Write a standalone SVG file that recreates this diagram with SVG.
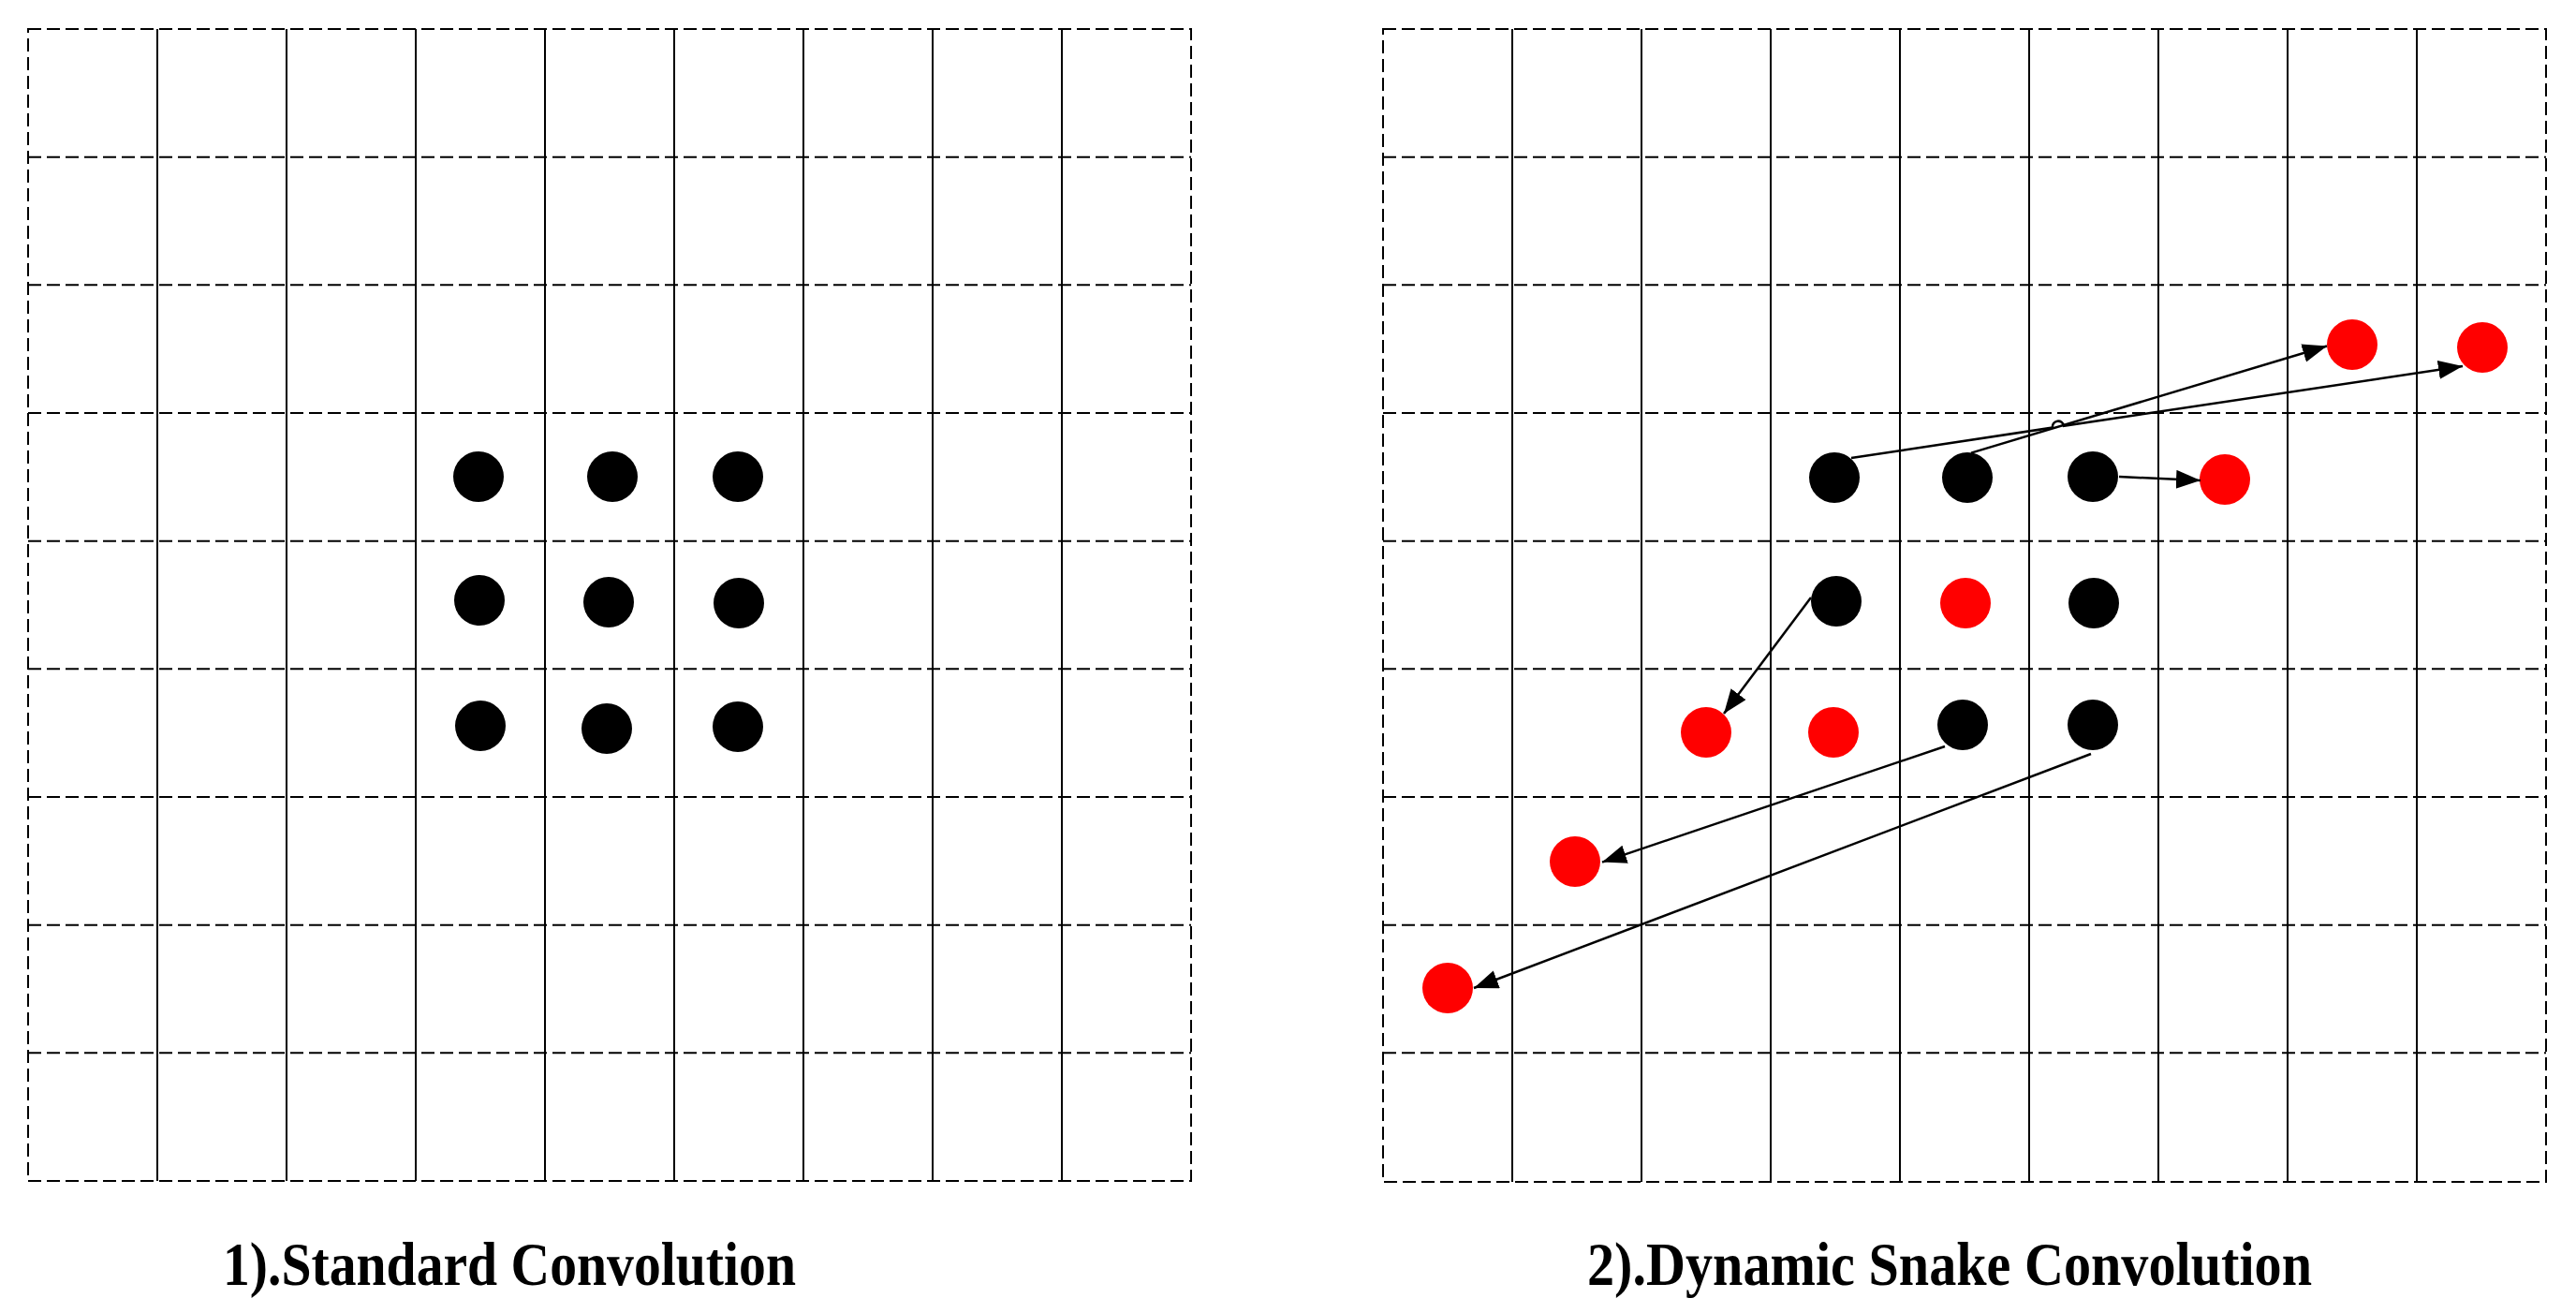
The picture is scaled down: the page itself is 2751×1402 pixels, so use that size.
<svg xmlns="http://www.w3.org/2000/svg" width="2751" height="1402" viewBox="0 0 2751 1402">
<style>
.bd{fill:none;stroke:#000;stroke-width:2;stroke-dasharray:14 6}
.hl{stroke:#000;stroke-width:2;stroke-dasharray:14 6}
.vl{stroke:#000;stroke-width:2}
.blk{fill:#000}
.red{fill:#ff0000}
.con{fill:none;stroke:#000;stroke-width:2.5}
.lbl{font-family:"Liberation Serif","Times New Roman",serif;font-weight:bold;font-size:65px;fill:#000}
</style>
<defs>
<marker id="ah" markerUnits="userSpaceOnUse" markerWidth="28" markerHeight="22" refX="26" refY="10" orient="auto">
<path d="M0,0 L26,10 L0,20 z" fill="#000"/>
</marker>
</defs>
<rect width="2751" height="1402" fill="#fff"/>
<g id="grid-left">
<rect class="bd" x="30" y="31" width="1242" height="1230"/>
<g class="hl">
<line x1="30" y1="167.7" x2="1272" y2="167.7"/>
<line x1="30" y1="304.3" x2="1272" y2="304.3"/>
<line x1="30" y1="441" x2="1272" y2="441"/>
<line x1="30" y1="577.7" x2="1272" y2="577.7"/>
<line x1="30" y1="714.3" x2="1272" y2="714.3"/>
<line x1="30" y1="851" x2="1272" y2="851"/>
<line x1="30" y1="987.7" x2="1272" y2="987.7"/>
<line x1="30" y1="1124.3" x2="1272" y2="1124.3"/>
</g>
<g class="vl">
<line x1="168" y1="31" x2="168" y2="1261"/>
<line x1="306" y1="31" x2="306" y2="1261"/>
<line x1="444" y1="31" x2="444" y2="1261"/>
<line x1="582" y1="31" x2="582" y2="1261"/>
<line x1="720" y1="31" x2="720" y2="1261"/>
<line x1="858" y1="31" x2="858" y2="1261"/>
<line x1="996" y1="31" x2="996" y2="1261"/>
<line x1="1134" y1="31" x2="1134" y2="1261"/>
</g>
</g>
<g id="grid-right">
<rect class="bd" x="1477" y="31" width="1242" height="1231"/>
<g class="hl">
<line x1="1477" y1="167.7" x2="2719" y2="167.7"/>
<line x1="1477" y1="304.3" x2="2719" y2="304.3"/>
<line x1="1477" y1="441" x2="2719" y2="441"/>
<line x1="1477" y1="577.7" x2="2719" y2="577.7"/>
<line x1="1477" y1="714.3" x2="2719" y2="714.3"/>
<line x1="1477" y1="851" x2="2719" y2="851"/>
<line x1="1477" y1="987.7" x2="2719" y2="987.7"/>
<line x1="1477" y1="1124.3" x2="2719" y2="1124.3"/>
</g>
<g class="vl">
<line x1="1615" y1="31" x2="1615" y2="1262"/>
<line x1="1753" y1="31" x2="1753" y2="1262"/>
<line x1="1891" y1="31" x2="1891" y2="1262"/>
<line x1="2029" y1="31" x2="2029" y2="1262"/>
<line x1="2167" y1="31" x2="2167" y2="1262"/>
<line x1="2305" y1="31" x2="2305" y2="1262"/>
<line x1="2443" y1="31" x2="2443" y2="1262"/>
<line x1="2581" y1="31" x2="2581" y2="1262"/>
</g>
</g>
<g id="std-dots">
<g id="s11"><circle class="blk" cx="511" cy="509" r="27"/></g>
<g id="s12"><circle class="blk" cx="654" cy="509" r="27"/></g>
<g id="s13"><circle class="blk" cx="788" cy="509" r="27"/></g>
<g id="s21"><circle class="blk" cx="512" cy="641" r="27"/></g>
<g id="s22"><circle class="blk" cx="650" cy="643" r="27"/></g>
<g id="s23"><circle class="blk" cx="789" cy="644" r="27"/></g>
<g id="s31"><circle class="blk" cx="513" cy="775" r="27"/></g>
<g id="s32"><circle class="blk" cx="648" cy="778" r="27"/></g>
<g id="s33"><circle class="blk" cx="788" cy="776" r="27"/></g>
</g>
<g id="dsc-dots">
<g id="b11"><circle class="blk" cx="1959" cy="510" r="27"/></g>
<g id="b12"><circle class="blk" cx="2101" cy="510" r="27"/></g>
<g id="b13"><circle class="blk" cx="2235" cy="509" r="27"/></g>
<g id="b21"><circle class="blk" cx="1961" cy="642" r="27"/></g>
<g id="b23"><circle class="blk" cx="2236" cy="644" r="27"/></g>
<g id="b32"><circle class="blk" cx="2096" cy="774" r="27"/></g>
<g id="b33"><circle class="blk" cx="2235" cy="774" r="27"/></g>
<g id="r1"><circle class="red" cx="2376" cy="512" r="27"/></g>
<g id="r2"><circle class="red" cx="2512" cy="368" r="27"/></g>
<g id="r3"><circle class="red" cx="2651" cy="371" r="27"/></g>
<g id="r4"><circle class="red" cx="2099" cy="644" r="27"/></g>
<g id="r5"><circle class="red" cx="1822" cy="782" r="27"/></g>
<g id="r6"><circle class="red" cx="1958" cy="782" r="27"/></g>
<g id="r7"><circle class="red" cx="1682" cy="920" r="27"/></g>
<g id="r8"><circle class="red" cx="1546" cy="1055" r="27"/></g>
</g>
<g id="connectors">
<path class="con" marker-end="url(#ah)" d="M1977,489 L2192,456.6 A6,6 0 0 1 2204,454.8 L2630,391"/>
<line class="con" marker-end="url(#ah)" x1="2105" y1="483.6" x2="2485" y2="369.5"/>
<line class="con" marker-end="url(#ah)" x1="2263" y1="509" x2="2350" y2="513"/>
<line class="con" marker-end="url(#ah)" x1="1934" y1="638" x2="1841" y2="762"/>
<line class="con" marker-end="url(#ah)" x1="2077" y1="797" x2="1711" y2="920.6"/>
<line class="con" marker-end="url(#ah)" x1="2233" y1="805" x2="1574" y2="1055"/>
</g>
<g id="labels">
<text class="lbl" x="238" y="1372" textLength="612" lengthAdjust="spacingAndGlyphs">1).Standard Convolution</text>
<text class="lbl" x="1695" y="1372" textLength="774" lengthAdjust="spacingAndGlyphs">2).Dynamic Snake Convolution</text>
</g>
</svg>
